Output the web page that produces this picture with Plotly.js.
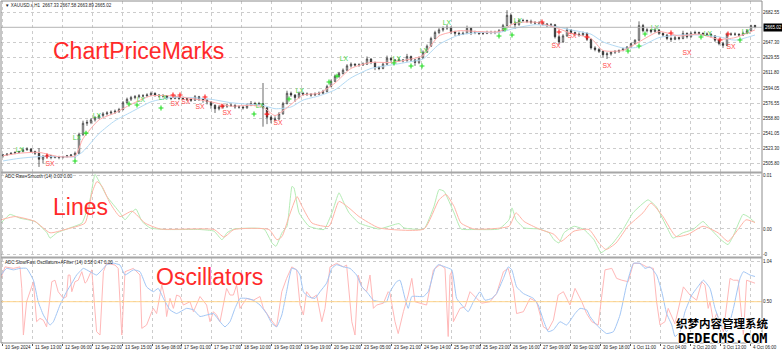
<!DOCTYPE html>
<html><head><meta charset="utf-8">
<script src="https://cdn.plot.ly/plotly-3.0.1.min.js"></script>
<style>html,body{margin:0;padding:0;background:#fff;overflow:hidden}#chart{width:782px;height:351px}</style>
</head><body><div id="chart"></div>
<script>
// ---------------- DATA ----------------
const symbolTitle = "\u25BC XAUUSD.s,H1  2667.33 2667.58 2663.89 2665.02";
const linesTitle = "ADC Raw+Smooth (14) 0.00 0.00";
const oscTitle = "ADC Slow/Fast Oscillators+AFilter (14) 0.58 0.47 0.00";

const openP = [
2515,2516,2517,2518,2519,2520,2522,2523,2520,2518,
2511,2514,2515,2513,2514,2513,2514,2515,2516,2518,
2540,2553,2554,2557,2560,2562,2564,2565,2566,2567,
2569,2577,2581,2583,2584,2585,2585,2586,2588,2586,
2585,2585,2583,2582,2584,2582,2582,2581,2580,2584,
2581,2580,2578,2574,2570,2572,2573,2574,2574,2572,
2572,2571,2574,2576,2575,2576,2571,2560,2557,2558,
2564,2576,2588,2586,2583,2588,2587,2587,2586,2587,
2588,2590,2596,2602,2608,2611,2615,2620,2622,2621,
2621,2622,2628,2624,2618,2617,2622,2629,2627,2626,
2627,2626,2631,2627,2624,2629,2636,2643,2652,2659,
2662,2664,2665,2660,2658,2657,2658,2664,2659,2659,
2658,2658,2659,2659,2659,2661,2667,2679,2670,2668,
2673,2673,2672,2671,2670,2670,2669,2667,2668,2654,
2648,2655,2662,2659,2657,2656,2658,2651,2641,2639,
2637,2633,2634,2636,2637,2638,2640,2642,2646,2650,
2667,2661,2662,2660,2662,2658,2656,2652,2651,2653,
2652,2658,2654,2658,2659,2658,2657,2657,2655,2650,
2646,2644,2657,2657,2657,2656,2658,2661,2667.33];
const highP = [
2517,2518,2519,2520,2521,2524,2525,2524,2521,2524,
2516,2517,2516,2515,2515,2515,2516,2517,2520,2542,
2556,2557,2559,2561,2563,2566,2567,2568,2569,2571,
2579,2583,2585,2586,2587,2587,2588,2590,2589,2587,
2587,2586,2584,2586,2585,2584,2583,2582,2586,2585,
2582,2581,2579,2575,2574,2575,2576,2576,2575,2574,
2573,2576,2579,2578,2578,2600,2572,2562,2561,2566,
2578,2591,2590,2587,2590,2589,2589,2588,2589,2590,
2592,2598,2604,2610,2613,2617,2622,2624,2623,2623,
2624,2631,2629,2625,2620,2624,2632,2630,2628,2629,
2628,2634,2632,2628,2631,2638,2645,2654,2661,2664,
2666,2668,2666,2661,2660,2660,2667,2665,2661,2660,
2660,2661,2661,2661,2663,2669,2685,2681,2672,2675,
2675,2674,2674,2672,2672,2671,2670,2670,2669,2656,
2657,2665,2663,2660,2659,2660,2659,2652,2643,2641,
2638,2636,2637,2638,2639,2641,2643,2647,2651,2672,
2669,2664,2663,2664,2663,2659,2657,2654,2655,2654,
2661,2659,2660,2661,2660,2659,2659,2658,2656,2652,
2648,2659,2659,2659,2658,2660,2663,2668,2667.58];
const lowP = [
2513,2515,2516,2517,2518,2519,2521,2519,2516,2502,
2506,2512,2511,2512,2511,2512,2513,2514,2512,2517,
2538,2550,2552,2555,2558,2560,2562,2563,2564,2565,
2568,2576,2579,2581,2582,2583,2584,2585,2584,2583,
2583,2581,2580,2581,2580,2580,2579,2578,2579,2579,
2577,2575,2570,2565,2568,2570,2571,2572,2570,2570,
2569,2570,2573,2573,2574,2549,2552,2553,2555,2557,
2563,2575,2584,2578,2582,2585,2585,2584,2585,2586,
2587,2589,2595,2601,2606,2610,2614,2618,2619,2619,
2620,2621,2622,2615,2615,2616,2621,2625,2624,2625,
2624,2625,2625,2620,2622,2628,2635,2642,2651,2657,
2660,2662,2657,2655,2655,2656,2657,2656,2657,2656,
2656,2657,2657,2657,2658,2660,2666,2668,2663,2667,
2671,2670,2669,2668,2668,2667,2665,2666,2652,2645,
2647,2654,2657,2655,2654,2655,2649,2639,2637,2635,
2630,2628,2632,2634,2635,2637,2639,2641,2645,2649,
2659,2659,2658,2659,2656,2654,2650,2648,2650,2650,
2651,2652,2653,2657,2656,2655,2655,2653,2648,2644,
2641,2643,2655,2655,2654,2655,2657,2660,2663.89];
const closeP = [
2516,2517,2518,2519,2520,2522,2523,2520,2518,2511,
2514,2515,2513,2514,2513,2514,2515,2516,2518,2540,
2553,2554,2557,2560,2562,2564,2565,2566,2567,2569,
2577,2581,2583,2584,2585,2585,2586,2588,2586,2585,
2585,2583,2582,2584,2582,2582,2581,2580,2584,2581,
2580,2578,2574,2570,2572,2573,2574,2574,2572,2572,
2571,2574,2576,2575,2576,2571,2560,2557,2558,2564,
2576,2588,2586,2583,2588,2587,2587,2586,2587,2588,
2590,2596,2602,2608,2611,2615,2620,2622,2621,2621,
2622,2628,2624,2618,2617,2622,2629,2627,2626,2627,
2626,2631,2627,2624,2629,2636,2643,2652,2659,2662,
2664,2665,2660,2658,2657,2658,2664,2659,2659,2658,
2658,2659,2659,2659,2661,2667,2679,2670,2668,2673,
2673,2672,2671,2670,2670,2669,2667,2668,2654,2648,
2655,2662,2659,2657,2656,2658,2651,2641,2639,2637,
2633,2634,2636,2637,2638,2640,2642,2646,2650,2667,
2661,2662,2660,2662,2658,2656,2652,2651,2653,2652,
2658,2654,2658,2659,2658,2657,2657,2655,2650,2646,
2644,2657,2657,2657,2656,2658,2661,2667,2665.02];
const lastPrice = 2665.02;

// moving averages (bar index, price)
const maBars = [0,4,9,14,18,20,24,28,32,37,42,47,52,57,62,65,68,72,75,79,83,87,92,97,102,105,109,114,119,124,128,133,138,142,147,150,155,159,164,169,174,179,183,188];
const maFast = [2515,2518,2519,2514,2515,2535,2557,2565,2575,2585,2585,2582,2578,2573,2574,2572,2562,2575,2586,2588,2600,2617,2624,2624,2628,2632,2655,2661,2660,2660,2670,2671,2665,2658,2652,2638,2638,2648,2660,2655,2657,2651,2653,2662];
const maSlow = [2509,2512,2514,2514,2514,2520,2541,2556,2566,2578,2583,2583,2581,2577,2575,2574,2570,2572,2580,2585,2592,2606,2617,2621,2625,2628,2645,2656,2659,2659,2664,2668,2666,2662,2657,2648,2641,2642,2653,2656,2656,2654,2650,2656];

// signal marks
const buyMarkBars = [18,20.75,31.5,33.5,39.5,62.75,71.5,81.5,83.5,97.75,102,104.75,124,125.5,127.25,156.25,159,160.5,174.5,184.25];
const buyMarkPrices = [2509,2541.5,2575.5,2574.3,2570.8,2563.8,2581.3,2601.2,2608,2623.4,2619.9,2619.9,2654.9,2663,2656,2637.3,2643.2,2657.2,2653.7,2650.2];
const sellMarkBars = [11,42.5,44.25,50.5,54.75,66,134.75,139,146,167,179.25,181.25];
const sellMarkPrices = [2514.8,2586,2586,2583.7,2573,2563.7,2671.2,2659.5,2653.7,2658.3,2650.2,2657.2];
const sxBars = [11.75,43.0,45.7,49.25,56,68.75,138.25,142.25,151,171,182];
const sxPrices = [2505.5,2575.5,2577.5,2572,2565,2553.3,2643.2,2654.9,2619.9,2635,2642];
const lxBars = [4.25,18.5,23.5,34.5,40,64.25,74.25,85.25,98.5,105.25,111,128.75,163,176.25,185.75];
const lxPrices = [2521.8,2535.8,2561.5,2580.2,2582.5,2573,2590.6,2628,2628,2637.3,2670,2672.4,2664.2,2657.2,2659.5];

// ADC Raw + Smooth
const rawBars = [-0.5,1.75,4.25,8,11,11.75,13.5,16.75,19.75,21.75,23,24.25,26,29.25,30.5,32,33.25,34.75,36.75,40.5,49.25,52.75,54.75,56,57.75,65.25,67.25,68.25,69.75,71,72.25,72.75,74,76.5,80.25,82.25,84,85.25,86.5,89,94,99,100.25,105.25,107.75,109,110.25,112.75,114.5,117.75,124,126.5,127.25,128.25,130.25,134,136.5,137.75,139,140.25,142.75,145.25,147.75,149.5,150.75,152.5,155,157.5,161.25,163.25,166.25,167.5,170,172.5,175,176.25,179.5,181.25,182.5,185,186.25,188];
const rawVals = [0.0011,0.0027,0.0020,0.0014,-0.0007,-0.0017,-0.0007,0.0002,0.0011,0.0054,0.0101,0.0085,0.0060,0.0030,0.0017,0.0030,0.0037,0.0014,0.0002,-0.0001,-0.0001,-0.0004,-0.0020,-0.0007,0,0,-0.0026,-0.0032,-0.0007,0.0005,0.0079,0.0076,0.0030,0.0005,-0.0001,0.0030,0.0067,0.0048,0.0030,0.0011,0,0.0010,0.0002,0,0.0042,0.0073,0.0070,0.0030,0,-0.0001,0,0.0017,0.0039,0.0017,0.0002,0,-0.0007,-0.0020,-0.0026,-0.0007,0.0005,-0.0001,-0.0020,-0.0044,-0.0038,-0.0026,-0.0001,0.0030,0.0054,0.0042,-0.0001,-0.0017,-0.0007,-0.0001,0.0014,0.0005,-0.0020,-0.0029,-0.0014,0.0027,0.0023,0.0012];
const smoothBars = [-0.5,3,8,11.75,15.5,20.5,22.25,23.5,24.75,26.75,29.25,32.25,35.5,39.25,52.75,55.25,57.75,66.5,68.5,69.75,71.5,73.5,74.75,77.25,81.5,84,86.5,89,94,105.25,109,110.75,112.75,114.5,117.75,126.5,128.25,130.25,134,137.75,139.5,142.75,146.5,149,150.75,153.25,156.25,160,162,165,168.25,171.25,175,178.75,181.25,183.75,185.75,188];
const smoothVals = [0.0017,0.0023,0.0014,-0.0007,-0.0001,0.0011,0.0067,0.0088,0.0079,0.0048,0.0023,0.0033,0.0011,0,-0.0001,-0.0015,-0.0001,-0.0001,-0.0020,-0.0014,0.0023,0.0060,0.0042,0.0011,0.0005,0.0051,0.0039,0.0023,0.0002,0,0.0054,0.0064,0.0042,0.0011,0,0.0005,0.0030,0.0014,0,-0.0010,-0.0023,-0.0004,-0.0001,-0.0026,-0.0038,-0.0026,0.0005,0.0030,0.0048,0.0023,-0.0014,-0.0010,0.0005,-0.0007,-0.0023,-0.0001,0.0017,0.0012];

// ADC Slow / Fast oscillators
const slowBars = [
-0.5,0.9,2.6,4.25,5.9,7.6,8.8,10.1,11.75,12.6,
14.25,15.9,17.2,18.4,20.1,21.75,23.4,25.1,25.9,27.6,
29.25,30.5,32.6,34.25,35.9,37.6,38.8,40.1,41.75,43.4,
45.9,47.6,49.25,50.9,52.6,54.25,55.5,56.75,58,59.25,
60.9,62.6,64.25,65.9,67.2,68.4,69.7,70.9,72.2,73.4,
74.25,75.1,76.3,78,79.25,80.9,82.2,83.4,85.1,86.75,
88.4,89.7,90.9,92.6,94.25,95.9,96.75,98.4,99.25,100.5,
101.3,102.2,105.1,106.3,108,108.8,110.5,112.2,113.4,114.7,
116.3,117.6,119.25,120.5,122.2,123.4,125.1,126.3,127.2,128.4,
130.1,132.6,133.8,135.1,136.3,137.6,139.25,140.9,143,144.25,
145.9,146.75,148.4,150.9,152.6,154.25,155.9,157.6,159.25,160.5,
161.75,163.4,164.7,165.9,167.2,168,169.25,170.5,172.2,173.4,
175.1,176.75,178,179.25,180.9,182.6,184.25,185.1,186.75,188];
const slowVals = [
0.86,0.95,0.93,0.95,0.95,0.79,0.5,0.32,0.185,0.23,
0.455,0.635,0.75,0.86,0.95,0.905,0.86,0.95,1.0,1.02,
0.995,0.86,0.93,0.905,0.70,0.635,0.68,0.545,0.39,0.34,
0.41,0.39,0.30,0.32,0.34,0.23,0.16,0.23,0.41,0.545,
0.545,0.52,0.455,0.34,0.21,0.16,0.32,0.635,0.95,0.93,
0.86,0.635,0.57,0.545,0.635,0.75,0.95,1.0,0.97,0.95,
0.86,0.70,0.635,0.52,0.5,0.5,0.635,0.77,0.79,0.545,
0.41,0.57,0.57,0.635,0.95,1.0,0.97,0.93,0.545,0.455,
0.365,0.5,0.635,0.52,0.545,0.61,0.815,0.97,0.93,0.70,
0.61,0.545,0.455,0.25,0.095,0.12,0.23,0.185,0.34,0.41,
0.39,0.30,0.185,0.07,0.095,0.32,0.725,1.0175,1.0175,0.95,
0.97,0.86,0.635,0.34,0.185,0.03,0.095,0.365,0.59,0.68,
0.79,0.68,0.41,0.23,0.095,0.41,0.815,0.905,0.86,0.84];
const fastBars = [
-0.5,0.5,2.6,4.25,4.7,5.1,5.9,7.6,8.4,9.25,
10.1,10.9,12.2,13,13.8,15.1,15.9,16.3,16.75,17.2,
18,18.8,19.7,20.5,20.9,22.2,23.4,24.25,25.1,25.9,
28,28.8,29.7,30.5,32.6,34.25,34.7,35.9,37.2,37.6,
38.4,39.25,39.7,40.5,40.9,41.75,42.6,43.4,44.25,45.1,
46.75,47.6,49.25,50.9,51.75,52.6,53.4,54.25,55.9,56.75,
57.6,58.4,59.25,60.9,62.6,64.25,65.1,66.75,68.4,69.7,
70.9,72.2,73.4,74.25,75.1,75.9,77.2,78.4,79.7,80.5,
81.75,83.4,85.1,85.9,87.2,88,88.8,89.7,90.9,91.75,
92.6,93.4,95.1,96.3,96.75,98,98.8,100.1,101.3,102.2,
103,104.25,105.9,107.6,109.25,110.5,111.3,111.75,112.2,112.6,
114.25,115.5,116.75,118.4,119.7,121.75,123.4,125.1,126.3,127.6,
128.4,130.1,131.75,133.4,135.1,136.3,137.6,138.8,140.1,141.75,
143,144.7,145.9,147.2,148.8,150.5,152.2,153.4,154.7,156.3,
157.6,159.25,160.9,162.6,163.4,164.25,165.5,166.3,168,170.1,
171.75,173.4,174.7,175.5,176.3,176.75,177.6,178.4,180.1,181.75,
182.6,183.8,185.1,185.9,187.2,188];
const fastVals = [
0.815,0.97,0.95,0.97,0.68,0.05,0.5,0.77,0.23,0.275,
0.25,0.16,0.77,0.79,0.635,0.545,0.57,0.86,0.86,0.635,
0.77,0.79,0.905,0.75,0.77,0.93,0.095,0.05,0.905,1.0175,
0.995,0.95,0.05,0.905,0.95,0.86,0.14,0.185,0.365,0.41,
0.34,0.59,0.725,0.545,0.30,0.545,0.41,0.59,0.57,0.455,
0.5,0.365,0.57,0.455,0.23,0.365,0.32,0.23,0.68,0.59,
0.59,0.725,0.41,0.545,0.52,0.57,0.41,0.275,0.16,0.635,
0.815,0.97,0.93,0.455,0.32,0.635,0.545,0.59,0.23,0.41,
0.97,1.0175,0.97,0.995,0.23,0.05,0.86,0.70,0.635,0.86,
0.41,0.455,0.48,0.635,0.61,0.23,0.07,0.365,0.59,0.815,
0.5,0.48,0.455,0.93,1.0,0.95,0.03,0.86,0.905,0.23,
0.41,0.43,0.635,0.545,0.48,0.5,0.61,0.905,0.95,0.68,
0.34,0.365,0.545,0.5,0.16,0.12,0.25,0.59,0.635,0.455,
0.68,0.5,0.34,0.23,0.185,0.93,0.95,0.815,0.79,0.77,
1.0175,1.0175,0.97,0.95,0.5,0.185,0.23,0.41,0.2,0.70,
0.59,0.52,0.77,0.725,0.41,0.5,0.23,0.34,0.095,0.815,
0.79,0.79,0.05,0.79,0.77,0.75];
const filterLevel = 0.5;

// axis labels
const priceTicks = [2682.55,2647.30,2629.55,2611.80,2594.05,2576.55,2558.80,2541.05,2523.30,2505.80];
const linesTicks = [0.0100,0,-0.0047];
const linesTickText = ["0.01","0.00","-0"];
const oscTicks = [1.04,0.50];
const oscTickText = ["1.04","0.50"];
const dateLabels = ["10 Sep 2024","11 Sep 13:00","12 Sep 06:00","12 Sep 22:00","13 Sep 15:00","16 Sep 08:00","17 Sep 01:00","17 Sep 17:00","18 Sep 10:00","19 Sep 03:00","19 Sep 19:00","20 Sep 12:00","23 Sep 05:00","23 Sep 21:00","24 Sep 14:00","25 Sep 07:00","25 Sep 23:00","26 Sep 16:00","27 Sep 09:00","30 Sep 02:00","30 Sep 18:00","1 Oct 11:00","2 Oct 04:00","2 Oct 20:00","3 Oct 13:00","4 Oct 06:00"];

// ---------------- LAYOUT HELPERS ----------------
const plotL = 1, plotR = 762, plotT = 1, plotB = 343;
const px = v => (v - plotL) / (plotR - plotL);
const py = v => (plotB - v) / (plotB - plotT);
const firstTick = -0.125, tickStep = 7.475;
const dateTicks = dateLabels.map((_, k) => firstTick + k * tickStep);
const bars = closeP.map((_, i) => i);

const tiny = {family: "Liberation Sans, Arial, sans-serif", size: 4.5, color: "#1a1a1a"};
const bigFont = {family: "Liberation Sans Narrow, Liberation Sans, Arial", size: 23, color: "#ff2a2a"};
const gridCol = "#cccccc";
const wmShadow = "1px 0 0 #fff, -1px 0 0 #fff, 0 1px 0 #fff, 0 -1px 0 #fff";

const traces = [
  {type: "candlestick", x: bars, open: openP, high: highP, low: lowP, close: closeP,
   xaxis: "x", yaxis: "y", whiskerwidth: 0,
   increasing: {line: {color: "#2a2a2a", width: 0.7}, fillcolor: "#ffffff"},
   decreasing: {line: {color: "#2a2a2a", width: 0.7}, fillcolor: "#2a2a2a"}, hoverinfo: "skip"},
  {type: "scatter", mode: "lines", x: maBars, y: maSlow, xaxis: "x", yaxis: "y",
   line: {color: "#b3daf4", width: 1, shape: "spline", smoothing: 0.6}},
  {type: "scatter", mode: "lines", x: maBars, y: maFast, xaxis: "x", yaxis: "y",
   line: {color: "#ffaaaa", width: 1, shape: "spline", smoothing: 0.6}},
  {type: "scatter", mode: "markers", x: buyMarkBars, y: buyMarkPrices, xaxis: "x", yaxis: "y",
   marker: {symbol: "cross-thin", size: 3.5, color: "#22dd22", line: {width: 1.1, color: "#22dd22"}}},
  {type: "scatter", mode: "markers", x: sellMarkBars, y: sellMarkPrices, xaxis: "x", yaxis: "y",
   marker: {symbol: "cross-thin", size: 3.5, color: "#ff1a1a", line: {width: 1.1, color: "#ff1a1a"}}},
  {type: "scatter", mode: "text", x: sxBars, y: sxPrices, text: sxBars.map(() => "SX"), xaxis: "x", yaxis: "y",
   textfont: {family: "Liberation Sans, Arial", size: 6.8, color: "#ff4848"}},
  {type: "scatter", mode: "text", x: lxBars, y: lxPrices, text: lxBars.map(() => "LX"), xaxis: "x", yaxis: "y",
   textfont: {family: "Liberation Sans, Arial", size: 6.8, color: "#44d444"}},
  {type: "scatter", mode: "lines", x: rawBars, y: rawVals, xaxis: "x2", yaxis: "y2",
   line: {color: "#b4ecb4", width: 1, shape: "spline", smoothing: 0.4}},
  {type: "scatter", mode: "lines", x: smoothBars, y: smoothVals, xaxis: "x2", yaxis: "y2",
   line: {color: "#ffb4a6", width: 1, shape: "spline", smoothing: 0.5}},
  {type: "scatter", mode: "lines", x: fastBars, y: fastVals, xaxis: "x3", yaxis: "y3",
   line: {color: "#ffb8b8", width: 1}},
  {type: "scatter", mode: "lines", x: slowBars, y: slowVals, xaxis: "x3", yaxis: "y3",
   line: {color: "#a2c6f5", width: 1, shape: "spline", smoothing: 0.4}}
];

const xBase = {range: [-0.5, 189.75], showticklabels: false, tickvals: dateTicks,
  showgrid: true, gridcolor: gridCol, griddash: "dot", gridwidth: 1, zeroline: false,
  showline: false, fixedrange: true, automargin: false};
const yBase = {side: "right", showgrid: true, gridcolor: gridCol, griddash: "dot", gridwidth: 1,
  zeroline: false, showline: false, ticks: "", tickfont: tiny, automargin: false, fixedrange: true};

const annotations = [
  {text: symbolTitle, xref: "paper", yref: "paper", x: px(3), y: py(5), xanchor: "left", yanchor: "middle", showarrow: false, font: tiny},
  {text: linesTitle, xref: "paper", yref: "paper", x: px(3), y: py(176.5), xanchor: "left", yanchor: "middle", showarrow: false, font: tiny},
  {text: oscTitle, xref: "paper", yref: "paper", x: px(3), y: py(262), xanchor: "left", yanchor: "middle", showarrow: false, font: tiny},
  {text: "ChartPriceMarks", xref: "paper", yref: "paper", x: px(51), y: py(51.5), xanchor: "left", yanchor: "middle", showarrow: false, font: bigFont},
  {text: "Lines", xref: "paper", yref: "paper", x: px(51), y: py(207), xanchor: "left", yanchor: "middle", showarrow: false, font: bigFont},
  {text: "Oscillators", xref: "paper", yref: "paper", x: px(154), y: py(277), xanchor: "left", yanchor: "middle", showarrow: false, font: bigFont},
  {text: lastPrice.toFixed(2), xref: "paper", yref: "y", x: px(763), y: lastPrice, xanchor: "left", yanchor: "middle",
   showarrow: false, bgcolor: "#000", borderpad: 1, font: {family: tiny.family, size: 4.5, color: "#fff"}},
  {text: "织梦内容管理系统", xref: "paper", yref: "paper", x: px(722), y: py(322.5), xanchor: "center", yanchor: "middle", showarrow: false,
   font: {family: "Noto Sans CJK SC", size: 11.5, color: "#000", weight: 700, shadow: wmShadow}},
  {text: "DEDECMS.COM", xref: "paper", yref: "paper", x: px(722), y: py(338), xanchor: "center", yanchor: "middle", showarrow: false,
   font: {family: "DejaVu Sans Mono", size: 13.5, color: "#000", weight: 700, shadow: wmShadow}}
];
dateLabels.forEach((lab, k) => annotations.push({
  text: lab, xref: "x3", yref: "paper", x: dateTicks[k], y: py(347.5), xanchor: "left", yanchor: "middle",
  xshift: 0.5, showarrow: false, font: tiny}));

const shapes = [
  {type: "line", xref: "paper", yref: "y", x0: 0, x1: 1, y0: lastPrice, y1: lastPrice, line: {color: "#b4b4b4", width: 1}},
  {type: "line", xref: "paper", yref: "y3", x0: 0, x1: 1, y0: filterLevel, y1: filterLevel, line: {color: "#ffd48a", width: 1}},
  {type: "rect", xref: "paper", yref: "paper", x0: 0, x1: 1, y0: 0, y1: 1, line: {color: "#8c8c8c", width: 1}},
  {type: "line", xref: "paper", yref: "paper", x0: 0, x1: 1, y0: py(172.5), y1: py(172.5), line: {color: "#a6a6a6", width: 2}},
  {type: "line", xref: "paper", yref: "paper", x0: 0, x1: 1, y0: py(257.5), y1: py(257.5), line: {color: "#a6a6a6", width: 2}}
];

const layout = {
  width: 782, height: 351, paper_bgcolor: "#fff", plot_bgcolor: "#fff", showlegend: false,
  margin: {l: plotL, r: 782 - plotR, t: plotT, b: 351 - plotB, pad: 0},
  boxgap: 0.5,
  xaxis: Object.assign({}, xBase, {anchor: "y", rangeslider: {visible: false}}),
  xaxis2: Object.assign({}, xBase, {anchor: "y2", matches: "x"}),
  xaxis3: Object.assign({}, xBase, {anchor: "y3", matches: "x", ticks: "outside", ticklen: 2, tickcolor: "#555"}),
  yaxis: Object.assign({}, yBase, {anchor: "x", domain: [py(172), 1], range: [2496.11, 2695.74], tickvals: priceTicks, ticktext: priceTicks.map(v => v.toFixed(2))}),
  yaxis2: Object.assign({}, yBase, {anchor: "x2", domain: [py(257), py(173)], range: [-0.00519, 0.01037], tickvals: linesTicks, ticktext: linesTickText}),
  yaxis3: Object.assign({}, yBase, {anchor: "x3", domain: [0, py(258)], range: [-0.0576, 1.09], tickvals: oscTicks, ticktext: oscTickText}),
  annotations: annotations, shapes: shapes
};

Plotly.newPlot("chart", traces, layout, {staticPlot: true, displayModeBar: false});
</script>
</body></html>
